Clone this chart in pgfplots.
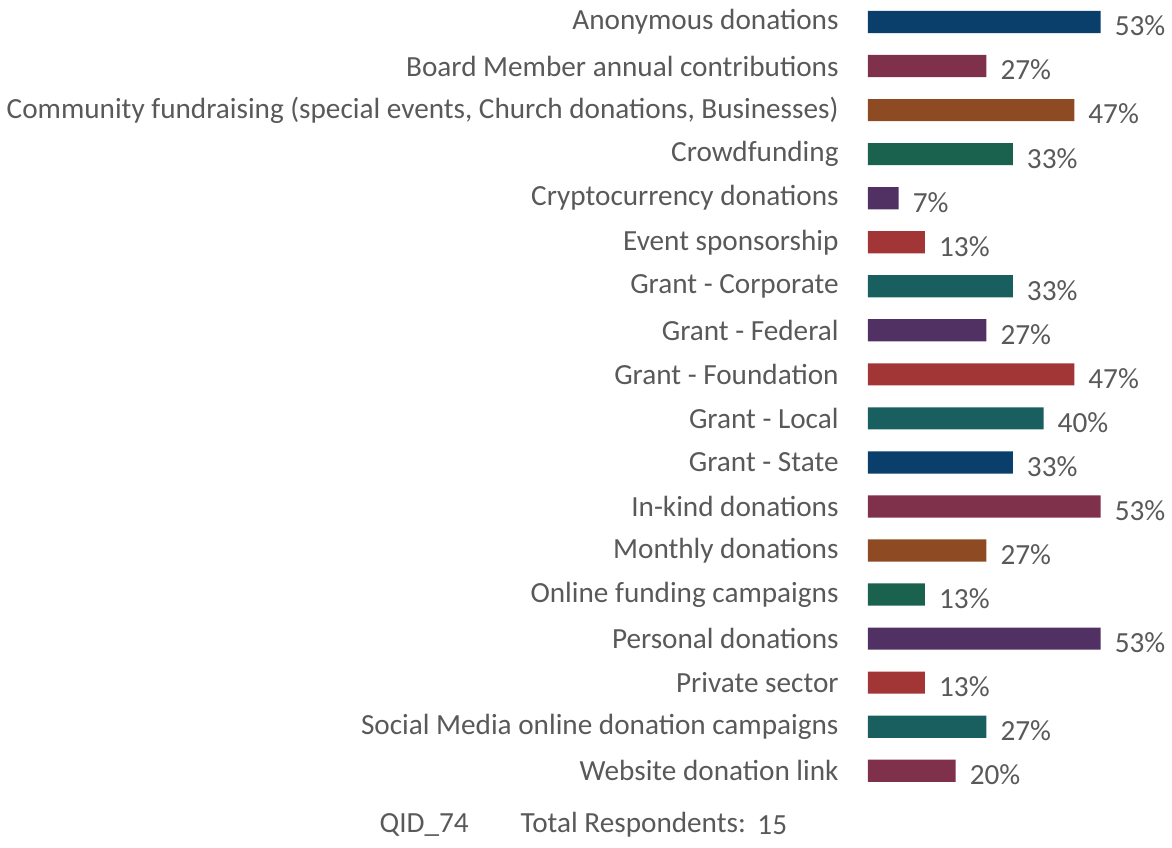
\documentclass[border=0pt]{standalone}
\usepackage{fontspec}
\setmainfont{Carlito}
\usepackage{pgfplots}
\pgfplotsset{compat=1.18}
\begin{document}
\begin{tikzpicture}
    \definecolor{cnavy}{RGB}{11,63,107}
    \definecolor{cmaroon}{RGB}{127,48,74}
    \definecolor{cbrown}{RGB}{142,75,35}
    \definecolor{cgreen}{RGB}{26,97,78}
    \definecolor{cpurple}{RGB}{81,49,99}
    \definecolor{cred}{RGB}{162,54,54}
    \definecolor{cteal}{RGB}{26,95,96}
    \definecolor{txtgray}{RGB}{89,89,89}

    \begin{axis}[
            scale only axis,
            width=115.5pt,
            height=393.4pt,
            xbar,
            bar width=11pt,
            bar shift=0pt,
            xmin=0, xmax=53,
            ymin=-0.5, ymax=17.5,
            y dir=reverse,
            axis line style={draw=none},
            major tick length=0pt,
            xtick=\empty,
            ytick={0,...,17},
            yticklabels={
                    Anonymous donations,
                    Board Member annual contributions,
                    {Community fundraising (special events, Church donations, Businesses)},
                    Crowdfunding,
                    Cryptocurrency donations,
                    Event sponsorship,
                    Grant - Corporate,
                    Grant - Federal,
                    Grant - Foundation,
                    Grant - Local,
                    Grant - State,
                    In-kind donations,
                    Monthly donations,
                    Online funding campaigns,
                    Personal donations,
                    Private sector,
                    Social Media online donation campaigns,
                    Website donation link},
            yticklabel style={font=\fontsize{14.5}{17}\selectfont, text=txtgray, xshift=-11pt},
            nodes near coords={\pgfplotspointmeta\%},
            nodes near coords style={font=\fontsize{14.5}{17}\selectfont, text=txtgray,
                    anchor=west, xshift=3.5pt, yshift=-2pt},
            point meta=explicit symbolic,
            clip=false,
        ]
        \addplot [draw=none, fill=cnavy] coordinates {(53,0) [53] (33,10) [33]};
        \addplot [draw=none, fill=cmaroon] coordinates {(27,1) [27] (53,11) [53] (20,17) [20]};
        \addplot [draw=none, fill=cbrown] coordinates {(47,2) [47] (27,12) [27]};
        \addplot [draw=none, fill=cgreen] coordinates {(33,3) [33] (13,13) [13]};
        \addplot [draw=none, fill=cpurple] coordinates {(7,4) [7] (27,7) [27] (53,14) [53]};
        \addplot [draw=none, fill=cred] coordinates {(13,5) [13] (47,8) [47] (13,15) [13]};
        \addplot [draw=none, fill=cteal] coordinates {(33,6) [33] (40,9) [40] (27,16) [27]};
    \end{axis}
    \begin{scope}[font=\fontsize{14.5}{17}\selectfont, text=txtgray]
        \node[anchor=west, inner sep=0pt] at ([xshift=-242.5pt, yshift=-16pt]current axis.south west) {QID\_74};
        \node[anchor=west, inner sep=0pt] at ([xshift=-172.5pt, yshift=-16pt]current axis.south west) {Total Respondents:};
        \node[anchor=west, inner sep=0pt] at ([xshift=-55pt, yshift=-16pt]current axis.south west) {15};
    \end{scope}
    \path ([yshift=-27pt]current axis.south west);
\end{tikzpicture}
\end{document}
